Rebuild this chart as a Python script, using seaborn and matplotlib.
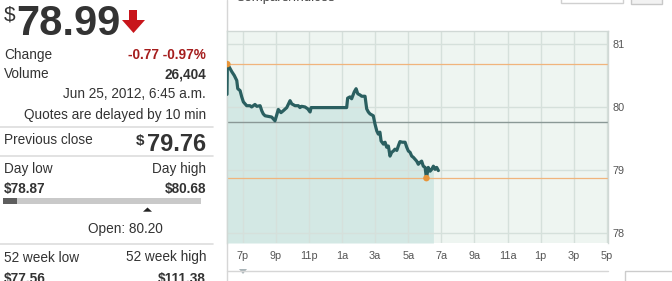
import numpy as np
import pandas as pd
import matplotlib
matplotlib.use("Agg")
import matplotlib.pyplot as plt
from matplotlib.patches import Polygon, Rectangle
import seaborn as sns

# ---------------- data ----------------
# time in hours since midnight of Jun 24 (24 = midnight, 30.75 = 6:45 a.m.)
times = [18.05, 18.07, 18.17, 18.34, 18.49, 18.64, 18.70, 18.84, 18.94, 19.04,
         19.14, 19.24, 19.44, 19.54, 19.74, 19.85, 20.05, 20.15, 20.24, 20.35,
         20.55, 20.75, 20.95, 21.05, 21.15, 21.31, 21.45, 21.66, 21.86, 21.96,
         22.16, 22.36, 22.46, 22.56, 22.76, 22.93, 23.07, 23.13, 25.28, 25.34,
         25.48, 25.58, 25.74, 25.85, 25.95, 26.09, 26.19, 26.39, 26.49, 26.59,
         26.69, 26.89, 26.99, 27.10, 27.19, 27.29, 27.36, 27.50, 27.60, 27.70,
         27.80, 27.90, 28.00, 28.10, 28.20, 28.31, 28.40, 28.50, 28.64, 28.81,
         28.91, 29.01, 29.11, 29.21, 29.31, 29.41, 29.51, 29.61, 29.71, 29.81,
         29.91, 30.02, 30.10, 30.21, 30.32, 30.42, 30.52, 30.62, 30.72, 30.82]
prices = [80.20, 80.68, 80.64, 80.56, 80.50, 80.42, 80.29, 80.26, 80.16, 80.08,
          80.05, 80.02, 80.02, 80.00, 80.04, 80.01, 80.02, 79.94, 79.89, 79.86,
          79.85, 79.84, 79.78, 79.87, 79.96, 79.91, 79.94, 79.99, 80.10, 80.05,
          80.02, 80.02, 79.99, 80.01, 80.00, 79.97, 79.92, 79.99, 79.99, 80.14,
          80.16, 80.13, 80.24, 80.29, 80.21, 80.19, 80.17, 80.17, 79.97, 79.92,
          79.89, 79.86, 79.73, 79.62, 79.57, 79.60, 79.46, 79.41, 79.44, 79.36,
          79.38, 79.22, 79.28, 79.30, 79.33, 79.31, 79.38, 79.45, 79.44, 79.44,
          79.36, 79.30, 79.28, 79.22, 79.20, 79.17, 79.14, 79.09, 79.12, 79.14,
          79.06, 79.04, 78.87, 79.04, 78.98, 79.01, 79.06, 79.01, 79.04, 78.99]

x_ticks = [19, 21, 23, 25, 27, 29, 31, 33, 35, 37, 39, 41]
x_tick_labels = ["7p", "9p", "11p", "1a", "3a", "5a", "7a", "9a", "11a", "1p", "3p", "5p"]
y_ticks = [78, 79, 80, 81]

last_price = "78.99"
prev_close = 79.76
day_low = 78.87
day_high = 80.68
day_high_time = 18.07
day_low_time = 30.10
fill_end = 30.52

# ---------------- figure ----------------
sns.set_style("white")
plt.rcParams["font.family"] = ["Liberation Sans", "DejaVu Sans"]

W, H = 672, 281
fig = plt.figure(figsize=(W / 100, H / 100), dpi=100)
fig.patch.set_facecolor("white")

# overlay in pixel coordinates
ov = fig.add_axes([0, 0, 1, 1], zorder=0)
ov.set_xlim(0, W)
ov.set_ylim(H, 0)
ov.axis("off")

# chart axes (pixel box 227..608 x 31..243)
L, R, T, B = 227, 608, 31, 243
ax = fig.add_axes([L / W, (H - B) / H, (R - L) / W, (B - T) / H], zorder=2)
ax.set_facecolor("#eef5f1")

df = pd.DataFrame({"t": times, "p": prices})
ymin, ymax = 77.84, 81.206
fill_df = df[df["t"] <= fill_end]
ax.fill_between(fill_df["t"], fill_df["p"], ymin, color="#d3e8e4", lw=0, zorder=1)

for xt in x_ticks:
    ax.axvline(xt, color="#d5e0db", lw=1, zorder=1.5)
for yt in y_ticks:
    ax.axhline(yt, color="#d5e0db", lw=1, zorder=1.5)

ax.axhline(day_high, color="#f0b47c", lw=0.9, zorder=2)
ax.axhline(day_low, color="#f0b47c", lw=0.9, zorder=2)
ax.axhline(prev_close, color="#8a9896", lw=1.0, zorder=2)

sns.lineplot(data=df, x="t", y="p", ax=ax, color="#2a5f60", lw=2.3,
             estimator=None, sort=False, zorder=3)
ax.scatter([day_high_time, day_low_time], [day_high, day_low], s=22,
           color="#e8953a", zorder=4, edgecolors="none")

ax.set_xlim(18.05, 41.07)
ax.set_ylim(ymin, ymax)
ax.set_xticks(x_ticks)
ax.set_xticklabels(x_tick_labels)
ax.set_yticks(y_ticks)
ax.set_yticklabels([str(v) for v in y_ticks])
ax.yaxis.tick_right()
ax.tick_params(axis="x", length=0, pad=6, labelsize=7.8, labelcolor="#555555")
ax.tick_params(axis="y", length=0, pad=3, labelsize=7.8, labelcolor="#555555")
ax.set_xlabel("")
ax.set_ylabel("")
for s in ["left", "right", "top"]:
    ax.spines[s].set_color("#d0d8d5")
    ax.spines[s].set_linewidth(1)
ax.spines["bottom"].set_visible(False)

# ---------------- panel borders ----------------
ov.plot([227, 227], [0, 281], color="#d6d6d6", lw=1)
ov.plot([227, 608], [271, 271], color="#d6d6d6", lw=1)
ov.add_patch(Polygon([[239, 269], [247, 269], [243, 274]], closed=True,
                     color="#a9b4b8", lw=0))
ov.add_patch(Rectangle((625, 271), 50, 12, fill=False, ec="#cccccc", lw=1))
ov.add_patch(Rectangle((561, -5), 62, 8, fill=False, ec="#d0d0d0", lw=1))
ov.add_patch(Rectangle((631, -5), 31, 9, fc="#f2f2f2", ec="#c8c8c8", lw=1))
ov.text(235, 1, "Compare/Indices", fontsize=9.5, color="#444444",
        ha="left", va="baseline")

# ---------------- left panel ----------------
txt = "#333333"
ov.text(4, 20, "$", fontsize=15, color=txt, ha="left", va="baseline")
ov.text(16, 35, last_price, fontsize=30, fontweight="bold", color=txt,
        ha="left", va="baseline")
ov.add_patch(Polygon([[129, 10], [137, 10], [137, 20], [145, 20], [133.5, 33],
                      [122, 20], [129, 20]], closed=True, color="#c8151b", lw=0))

ov.text(4, 59, "Change", fontsize=9.8, color=txt, ha="left", va="baseline")
ov.text(206, 59, "-0.77 -0.97%", fontsize=9.8, fontweight="bold",
        color="#a51d1d", ha="right", va="baseline")
ov.text(4, 78.5, "Volume", fontsize=9.8, color=txt, ha="left", va="baseline")
ov.text(206, 78.5, "26,404", fontsize=9.8, fontweight="bold", color=txt,
        ha="right", va="baseline")
ov.text(206, 98.5, "Jun 25, 2012, 6:45 a.m.", fontsize=9.8, color=txt,
        ha="right", va="baseline")
ov.text(206, 119, "Quotes are delayed by 10 min", fontsize=9.8, color=txt,
        ha="right", va="baseline")
ov.plot([0, 213], [127, 127], color="#dddddd", lw=1.2)

ov.text(4, 144.5, "Previous close", fontsize=9.8, color=txt, ha="left",
        va="baseline")
ov.text(144, 145, "$", fontsize=11, fontweight="bold", color=txt, ha="right",
        va="baseline")
ov.text(206.5, 151, f"{prev_close:.2f}", fontsize=17, fontweight="bold",
        color=txt, ha="right", va="baseline")
ov.plot([0, 213], [155.5, 155.5], color="#dddddd", lw=1.2)

ov.text(4, 172.5, "Day low", fontsize=9.8, color=txt, ha="left", va="baseline")
ov.text(206, 172.5, "Day high", fontsize=9.8, color=txt, ha="right",
        va="baseline")
ov.text(4, 193, f"${day_low:.2f}", fontsize=9.8, fontweight="bold", color=txt,
        ha="left", va="baseline")
ov.text(206, 193, f"${day_high:.2f}", fontsize=9.8, fontweight="bold",
        color=txt, ha="right", va="baseline")
ov.add_patch(Rectangle((3, 198.3), 198, 6, color="#c9c9c9", lw=0))
ov.add_patch(Rectangle((3, 198.3), 14, 6, color="#5e5e5e", lw=0))
ov.add_patch(Polygon([[143, 211.7], [152, 211.7], [147.5, 207.5]], closed=True,
                     color="#222222", lw=0))
ov.text(125, 232.5, "Open: 80.20", fontsize=9.8, color=txt, ha="center",
        va="baseline")
ov.plot([0, 213], [244, 244], color="#dddddd", lw=1.2)

ov.text(4, 261.5, "52 week low", fontsize=9.8, color=txt, ha="left",
        va="baseline")
ov.text(206, 261.5, "52 week high", fontsize=9.8, color=txt, ha="right",
        va="baseline")
ov.text(4, 283, "$77.56", fontsize=9.8, fontweight="bold", color=txt,
        ha="left", va="baseline")
ov.text(206, 283, "$111.38", fontsize=9.8, fontweight="bold", color=txt,
        ha="right", va="baseline")

fig.savefig("out.png", dpi=100, facecolor="white")
